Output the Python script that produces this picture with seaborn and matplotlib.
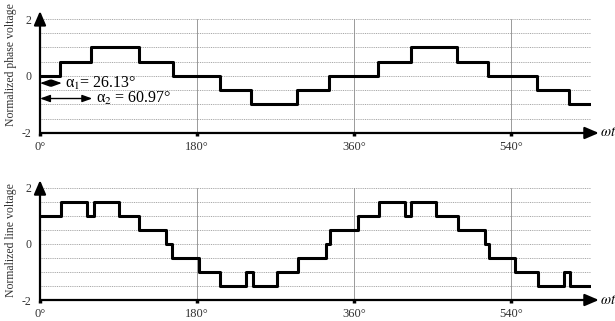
"""
Stepped phase / line voltage waveforms of a multilevel inverter.
"""

import matplotlib

matplotlib.use("Agg")
import matplotlib.pyplot as plt
import pandas as pd
import seaborn as sns

# step change angles (deg) and the level held after each one
phase_angles = [0, 23, 59, 114, 152, 206, 242, 295, 332, 388, 425, 478, 514, 570, 607, 632]
phase_levels = [0, 0.5, 1, 0.5, 0, -0.5, -1, -0.5, 0, 0.5, 1, 0.5, 0, -0.5, -1, -1]

line_angles = [0, 24, 53.5, 61.5, 90.5, 113.5, 145, 151, 182.5, 207, 236.5, 244, 272, 296.5,
               328, 333, 365, 388.5, 418.5, 425.5, 454.5, 479, 510, 515, 544.5, 571.5, 601,
               607.5, 634]
line_levels = [1, 1.5, 1, 1.5, 1, 0.5, 0, -0.5, -1, -1.5, -1, -1.5, -1, -0.5,
               0, 0.5, 1, 1.5, 1, 1.5, 1, 0.5, 0, -0.5, -1, -1.5, -1,
               -1.5, -1.5]

x_ticks = [0, 180, 360, 540]
x_tick_labels = ["0°", "180°", "360°", "540°"]
y_ticks = [-2, 0, 2]
grid_levels = [-1.5, -1, -0.5, 0, 0.5, 1, 1.5, 2]
alpha_labels = ["α$_1$= 26.13°", "α$_2$ = 60.97°"]
alpha_ends = [25, 60]

sns.set_theme(style="white")
plt.rcParams["font.family"] = ["Liberation Serif", "DejaVu Serif"]
plt.rcParams["mathtext.fontset"] = "stix"
plt.rcParams["text.color"] = "black"

X_MAX = 632

fig = plt.figure(figsize=(6.15, 3.21), dpi=100)
ax_top = fig.add_axes([40 / 615, 0.5857, 551 / 615, 0.3551])
ax_bot = fig.add_axes([40 / 615, 0.0654, 551 / 615, 0.3490])


def style_axes(ax):
    ax.set_xlim(0, X_MAX)
    ax.set_ylim(-2, 2)
    for s in ax.spines.values():
        s.set_visible(False)
    for y in grid_levels:
        ax.axhline(y, color="#9a9a9a", lw=0.6, ls=(0, (1.2, 1)), zorder=1)
    for x in x_ticks[1:] + [X_MAX]:
        ax.axvline(x, color="#8a8a8a", lw=0.6, zorder=1)
    # axis arrows
    ax.annotate("", xy=(0, 2.28), xytext=(0, -2), annotation_clip=False,
                arrowprops=dict(arrowstyle="-|>,head_length=0.7,head_width=0.3",
                                color="black", lw=1.6, shrinkA=0, shrinkB=0))
    ax.annotate("", xy=(641, -2), xytext=(0, -2), annotation_clip=False,
                arrowprops=dict(arrowstyle="-|>,head_length=0.7,head_width=0.3",
                                color="black", lw=1.6, shrinkA=0, shrinkB=0))
    ax.text(642, -2, r"$\omega t$", fontsize=10.5, va="center", ha="left",
            clip_on=False)
    ax.set_xticks(x_ticks)
    ax.set_xticklabels(x_tick_labels, fontsize=9, color="#333333")
    ax.set_yticks(y_ticks)
    ax.set_yticklabels([str(v) for v in y_ticks], fontsize=8.5, color="#333333")
    ax.tick_params(axis="x", length=2, width=2.5, color="black", pad=4, bottom=True)
    ax.tick_params(axis="y", length=0, pad=6)
    ax.set_xlabel("")
    ax.set_ylabel("")


phase_df = pd.DataFrame({"angle": phase_angles, "level": phase_levels})
line_df = pd.DataFrame({"angle": line_angles, "level": line_levels})

sns.lineplot(data=phase_df, x="angle", y="level", ax=ax_top, color="black",
             lw=2.2, drawstyle="steps-post", zorder=3)
sns.lineplot(data=line_df, x="angle", y="level", ax=ax_bot, color="black",
             lw=2.2, drawstyle="steps-post", zorder=3)

style_axes(ax_top)
style_axes(ax_bot)

# alpha annotations
for (lbl, end, y) in zip(alpha_labels, alpha_ends, [-0.25, -0.79]):
    ax_top.annotate("", xy=(end, y), xytext=(0, y),
                    arrowprops=dict(arrowstyle="<|-|>,head_length=0.5,head_width=0.18",
                                    color="black", lw=1.0, shrinkA=0, shrinkB=0),
                    zorder=4)
    ax_top.text(end + 4, y, lbl, fontsize=11.5, va="center", ha="left", zorder=4)

fig.text(11 / 615, 0.80, "Normalized phase voltage", rotation=90, fontsize=8.5,
         va="center", ha="center", color="#333333")
fig.text(11 / 615, 0.252, "Normalized line voltage", rotation=90, fontsize=8.5,
         va="center", ha="center", color="#333333")

fig.savefig("out.png", dpi=100)
